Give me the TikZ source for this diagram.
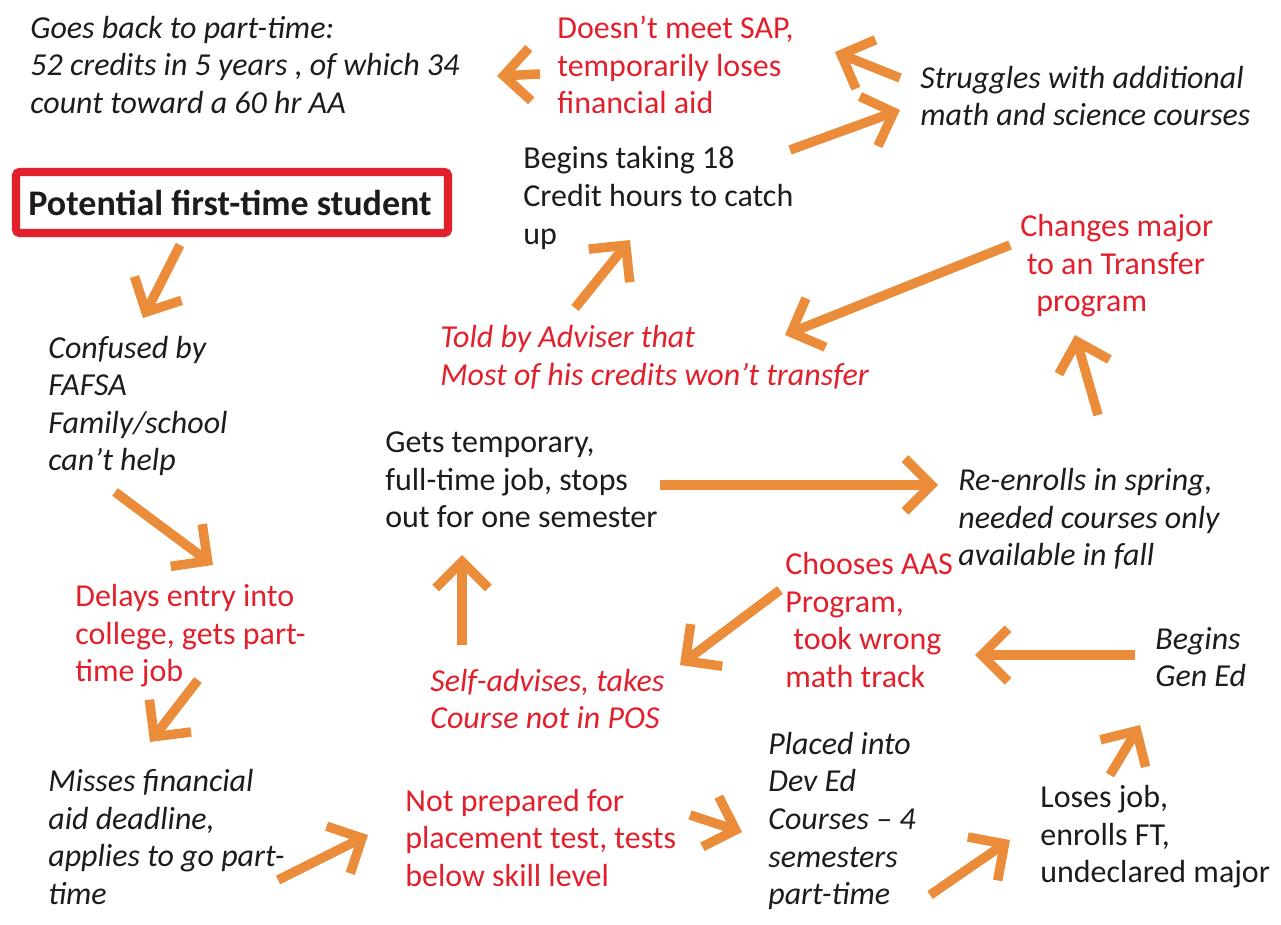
\documentclass[tikz,border=0pt]{standalone}
\usepackage{fontspec}
\setmainfont{Carlito}
\usepackage{tikz}
\usetikzlibrary{arrows.meta,positioning,calc}
\usepackage{xcolor}

\definecolor{flowor}{RGB}{234,140,58}
\definecolor{eventred}{RGB}{226,32,44}
\definecolor{inkgray}{RGB}{28,28,28}

\tikzset{
  txt/.style={anchor=west, align=left, inner sep=0pt, text=inkgray,
    font=\fontsize{18.2pt}{21.4pt}\selectfont},
  note/.style={txt, font=\fontsize{18.2pt}{21.4pt}\selectfont\itshape},
  event/.style={txt, text=eventred},
  eventit/.style={note, text=eventred},
  flow/.style={->, draw=flowor, line width=5.4pt},
  >={Straight Barb[length=15pt,width=30pt]}
}

\begin{document}
\begin{tikzpicture}[x=0.02cm, y=-0.02cm]
    \useasboundingbox (0,0) rectangle (1281,925);

    % Start box
    \draw[eventred, line width=4.6pt, rounded corners=2pt] (16,172) rectangle (448,233);
    \node[txt, anchor=center, font=\fontsize{20.5pt}{24pt}\selectfont\bfseries] (start) at (230,203) {Potential first-time student};

    % Left column
    \node[note] (confused) at (48,406) {Confused by\\FAFSA\\Family/school\\can't help};
    \node[event] (delays) at (75,636) {Delays entry into\\college, gets part-\\time job};
    \node[note] (misses) at (48,837) {Misses financial\\aid deadline,\\applies to go part-\\time};

    % Bottom row
    \node[event] (notprep) at (405,838) {Not prepared for\\placement test, tests\\below skill level};
    \node[note] (placed) at (768,821) {Placed into\\Dev Ed\\Courses -- 4\\semesters\\part-time};
    \node[txt] (loses) at (1040,837) {Loses job,\\enrolls FT,\\undeclared major};
    \node[note] (gened) at (1155,657) {Begins\\Gen Ed};

    % Middle
    \node[event] (chooses) at (785,620) {Chooses AAS\\Program,\\\hspace{0.25em}took wrong\\math track};
    \node[eventit] (selfadv) at (430,699) {Self-advises, takes\\Course not in POS};
    \node[txt] (gets) at (385,480) {Gets temporary,\\full-time job, stops\\out for one semester};
    \node[note] (reenroll) at (958,519) {Re-enrolls in spring,\\needed courses only\\available in fall};
    \node[event] (changes) at (1020,266) {Changes major\\\hspace{0.2em}to an Transfer\\\hspace{0.5em}program};
    \node[eventit] (told) at (440,357) {Told by Adviser that\\Most of his credits won't transfer};

    % Top row
    \node[txt] (begins) at (523,198) {Begins taking 18\\Credit hours to catch\\up};
    \node[note] (struggle) at (920,96) {Struggles with additional\\math and science courses};
    \node[event] (sap) at (557,65) {Doesn't meet SAP,\\temporarily loses\\financial aid};
    \node[note] (goes) at (30,65) {Goes back to part-time:\\52 credits in 5 years , of which 34\\count toward a 60 hr AA};

    % Arrow ends
    \coordinate (start-out) at (180,245);   \coordinate (confused-in) at (143,318);
    \coordinate (confused-out) at (115,492); \coordinate (delays-in) at (213,565);
    \coordinate (delays-out) at (198,680);  \coordinate (misses-in) at (150,742);
    \coordinate (misses-out) at (278,880);  \coordinate (notprep-in) at (368,835);
    \coordinate (notprep-out) at (690,815); \coordinate (placed-in) at (742,832);
    \coordinate (placed-out) at (930,895);  \coordinate (loses-in) at (1010,840);
    \coordinate (loses-out) at (1110,775);  \coordinate (gened-in) at (1140,725);
    \coordinate (gened-out) at (1135,655);  \coordinate (chooses-in) at (975,655);
    \coordinate (chooses-out) at (780,590); \coordinate (selfadv-in) at (680,665);
    \coordinate (selfadv-out) at (462,645); \coordinate (gets-in) at (462,555);
    \coordinate (gets-out) at (660,485);    \coordinate (reenroll-in) at (938,485);
    \coordinate (reenroll-out) at (1098,415); \coordinate (changes-in) at (1075,335);
    \coordinate (changes-out) at (1010,245); \coordinate (told-in) at (785,335);
    \coordinate (told-out) at (575,308);    \coordinate (begins-in) at (630,240);
    \coordinate (begins-out) at (790,150);  \coordinate (struggle-in) at (900,110);
    \coordinate (struggle-out) at (900,78); \coordinate (sap-in) at (835,52);
    \coordinate (sap-out) at (540,74);      \coordinate (goes-in) at (497,76);

    % Arrows
    \draw[flow] (start-out) -- (confused-in);
    \draw[flow] (confused-out) -- (delays-in);
    \draw[flow] (delays-out) -- (misses-in);
    \draw[flow] (misses-out) -- (notprep-in);
    \draw[flow] (notprep-out) -- (placed-in);
    \draw[flow] (placed-out) -- (loses-in);
    \draw[flow] (loses-out) -- (gened-in);
    \draw[flow] (gened-out) -- (chooses-in);
    \draw[flow] (chooses-out) -- (selfadv-in);
    \draw[flow] (selfadv-out) -- (gets-in);
    \draw[flow] (gets-out) -- (reenroll-in);
    \draw[flow] (reenroll-out) -- (changes-in);
    \draw[flow] (changes-out) -- (told-in);
    \draw[flow] (told-out) -- (begins-in);
    \draw[flow] (begins-out) -- (struggle-in);
    \draw[flow] (struggle-out) -- (sap-in);
    \draw[flow] (sap-out) -- (goes-in);
\end{tikzpicture}
\end{document}
